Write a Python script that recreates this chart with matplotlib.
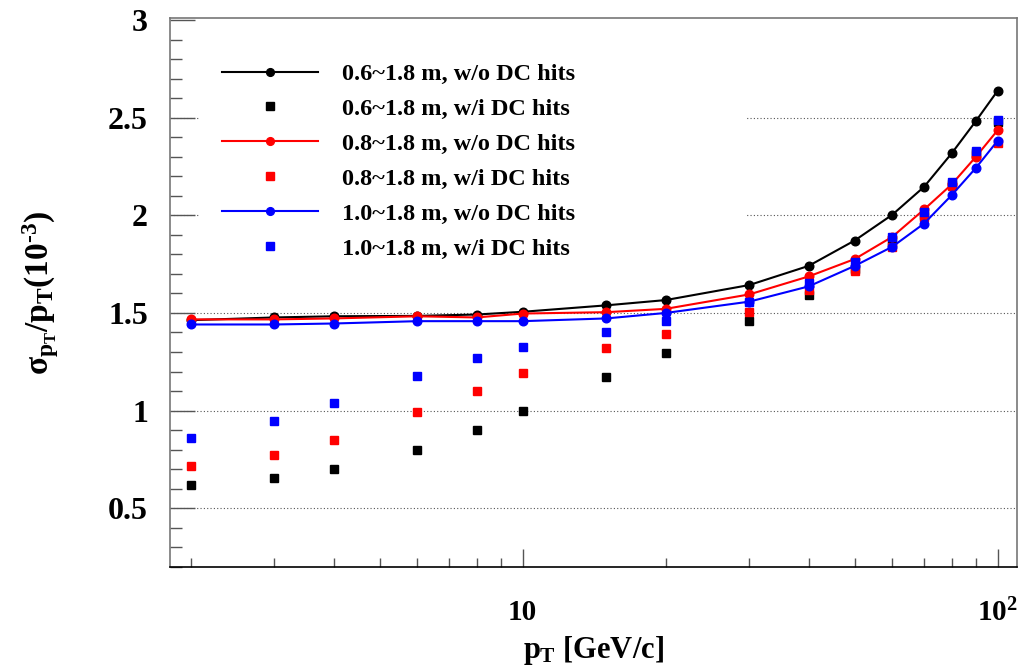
import numpy as np
import matplotlib
matplotlib.use("Agg")
import matplotlib.pyplot as plt
from matplotlib.patches import Rectangle
from matplotlib.ticker import FixedLocator, FixedFormatter, MultipleLocator, NullFormatter

plt.rcParams['font.family'] = ['Liberation Serif', 'DejaVu Serif']
plt.rcParams['font.weight'] = 'bold'
plt.rcParams['axes.labelweight'] = 'bold'
plt.rcParams['mathtext.fontset'] = 'custom'
plt.rcParams['mathtext.rm'] = 'Liberation Serif:bold'
plt.rcParams['mathtext.it'] = 'Liberation Serif:bold'
plt.rcParams['mathtext.bf'] = 'Liberation Serif:bold'

# pT points [GeV/c]
pt = [2, 3, 4, 6, 8, 10, 15, 20, 30, 40, 50, 60, 70, 80, 90, 100]

# resolution (10^-3)
r06_wo = [1.463, 1.477, 1.483, 1.485, 1.492, 1.506, 1.539, 1.566, 1.643, 1.741, 1.871, 2.003, 2.146, 2.317, 2.483, 2.638]
r06_wi = [0.618, 0.654, 0.700, 0.797, 0.900, 0.997, 1.171, 1.294, 1.458, 1.591, 1.725, 1.862, 2.000, 2.160, 2.320, 2.476]
r08_wo = [1.467, 1.467, 1.472, 1.483, 1.477, 1.497, 1.504, 1.521, 1.595, 1.687, 1.776, 1.890, 2.030, 2.158, 2.300, 2.436]
r08_wi = [0.715, 0.772, 0.848, 0.992, 1.099, 1.192, 1.319, 1.391, 1.504, 1.617, 1.715, 1.840, 1.990, 2.150, 2.310, 2.370]
r10_wo = [1.441, 1.441, 1.446, 1.458, 1.458, 1.458, 1.472, 1.500, 1.558, 1.636, 1.741, 1.839, 1.958, 2.103, 2.243, 2.382]
r10_wi = [0.859, 0.946, 1.038, 1.176, 1.268, 1.325, 1.402, 1.460, 1.555, 1.651, 1.763, 1.887, 2.015, 2.172, 2.330, 2.488]

labels = ["0.6~1.8 m, w/o DC hits", "0.6~1.8 m, w/i DC hits",
          "0.8~1.8 m, w/o DC hits", "0.8~1.8 m, w/i DC hits",
          "1.0~1.8 m, w/o DC hits", "1.0~1.8 m, w/i DC hits"]
colors = ["black", "#ff0000", "#0000ff"]

fig = plt.figure(figsize=(10.31, 6.70), dpi=100)
ax = fig.add_axes([0.165, 0.154, 0.821, 0.819])

series = [(r06_wo, r06_wi), (r08_wo, r08_wi), (r10_wo, r10_wi)]
for i, (wo, wi) in enumerate(series):
    c = colors[i]
    ax.plot(pt, wo, '-', color=c, lw=1.5, marker='o', ms=6.2, label=labels[2 * i], zorder=3)
    ax.plot(pt, wi, 's', color=c, ms=6.2, ls='none', label=labels[2 * i + 1], zorder=3)

ax.set_xscale('log')
ax.set_xlim(1.81, 109.6)
ax.set_ylim(0.2, 3.01)

ax.xaxis.set_major_locator(FixedLocator([10, 100]))
ax.xaxis.set_major_formatter(FixedFormatter(['10', r'$10^{2}$']))
minors = [2, 3, 4, 5, 6, 7, 8, 9, 20, 30, 40, 50, 60, 70, 80, 90]
ax.xaxis.set_minor_locator(FixedLocator(minors))
ax.xaxis.set_minor_formatter(NullFormatter())

ax.yaxis.set_minor_locator(MultipleLocator(0.1))
ax.set_yticks([0.5, 1, 1.5, 2, 2.5, 3])
ax.set_yticklabels(['0.5', '1', '1.5', '2', '2.5', '3'])

ax.tick_params(axis='y', which='major', direction='in', length=18, width=1, color='#555555',
               labelsize=23, pad=16)
ax.tick_params(axis='y', which='minor', direction='in', length=8.5, width=1, color='#555555')
ax.tick_params(axis='x', which='major', direction='in', length=13, width=1, color='#555555',
               labelsize=21, pad=23)
ax.tick_params(axis='x', which='minor', direction='in', length=6.5, width=1, color='#555555')
ax.tick_params(top=False, right=False)

for s in ['left', 'top', 'right']:
    ax.spines[s].set_color('#777777')
ax.spines['bottom'].set_color('black')
for s in ax.spines.values():
    s.set_linewidth(1.2)

for yv in [0.5, 1, 1.5, 2, 2.5]:
    ax.axhline(yv, color='#555555', lw=0.8, ls=(0, (1, 2)), zorder=1)

# white legend pad (hides the grid behind the legend, as in the original)
ax.add_patch(Rectangle((0.035, 0.54), 0.646, 0.42, transform=ax.transAxes,
                       facecolor='white', edgecolor='none', zorder=2))

leg = ax.legend(loc='upper left', bbox_to_anchor=(0.035, 0.958), frameon=False, fontsize=17.5,
                handlelength=3.95, handletextpad=1.0, labelspacing=0.53, borderpad=0.4,
                markerscale=0.9)
leg.set_zorder(4)

ax.set_xlabel(r'$p_{T}$ [GeV/c]', fontsize=22, labelpad=5)
ax.set_ylabel(r'$\sigma_{p_{T}}/p_{T}(10^{\text{-}3})$', fontsize=24, labelpad=34)

fig.savefig('out.png', dpi=100)
